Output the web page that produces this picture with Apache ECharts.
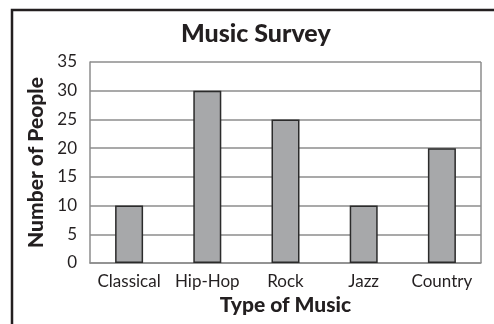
<!DOCTYPE html>
<html>
<head>
<meta charset="utf-8">
<title>Music Survey</title>
<script src="https://cdn.jsdelivr.net/npm/echarts@6/dist/echarts.min.js"></script>
<style>
  html, body { margin: 0; padding: 0; background: #fff; }
  #chart { width: 494px; height: 324px; }
</style>
</head>
<body>
<div id="chart"></div>
<script type="text/javascript">
// data
var musicTypes = ['Classical', 'Hip-Hop', 'Rock', 'Jazz', 'Country'];
var people = [10, 30, 25, 10, 20];

var chart = echarts.init(document.getElementById('chart'));
chart.setOption({
    animation: false,
    title: {
        text: 'Music Survey',
        left: 176,
        top: 16,
        textStyle: { fontFamily: 'Lato', fontSize: 25, fontWeight: 900, color: '#231f20' }
    },
    grid: { left: 90, right: 13, top: 62, bottom: 61 },
    graphic: [{
        type: 'polyline',
        shape: { points: [[12, 330], [12, 10], [500, 10]] },
        style: { stroke: '#231f20', lineWidth: 2.5, fill: null }
    }],
    xAxis: {
        type: 'category',
        data: musicTypes,
        name: 'Type of Music',
        nameLocation: 'middle',
        nameGap: 32,
        nameTextStyle: { fontFamily: 'Lato', fontSize: 21, fontWeight: 900, color: '#231f20' },
        axisLine: { lineStyle: { color: '#8c8c8c', width: 1.5 } },
        axisTick: { show: false },
        axisLabel: { interval: 0, fontFamily: 'Lato', fontSize: 17, color: '#231f20', margin: 10 }
    },
    yAxis: {
        type: 'value',
        min: 0,
        max: 35,
        interval: 5,
        name: 'Number of People',
        nameLocation: 'middle',
        nameGap: 42,
        nameTextStyle: { fontFamily: 'Lato', fontSize: 21, fontWeight: 900, color: '#231f20' },
        axisLine: { show: true, lineStyle: { color: '#8c8c8c', width: 1.5 } },
        axisTick: { show: false },
        axisLabel: { fontFamily: 'Lato', fontSize: 17, color: '#231f20', margin: 13 },
        splitLine: { lineStyle: { color: '#8c8c8c', width: 1.5 } }
    },
    series: [{
        type: 'bar',
        data: people,
        barWidth: 28,
        itemStyle: { color: '#a7a8aa', borderColor: '#2b2b2b', borderWidth: 1.5 }
    }, {
        // right border of the plot area
        type: 'line',
        data: [],
        markLine: {
            silent: true,
            symbol: 'none',
            label: { show: false },
            lineStyle: { color: '#8c8c8c', width: 1.5, type: 'solid' },
            data: [[{ x: 481, y: 62 }, { x: 481, y: 263 }]]
        }
    }]
});
</script>
</body>
</html>
